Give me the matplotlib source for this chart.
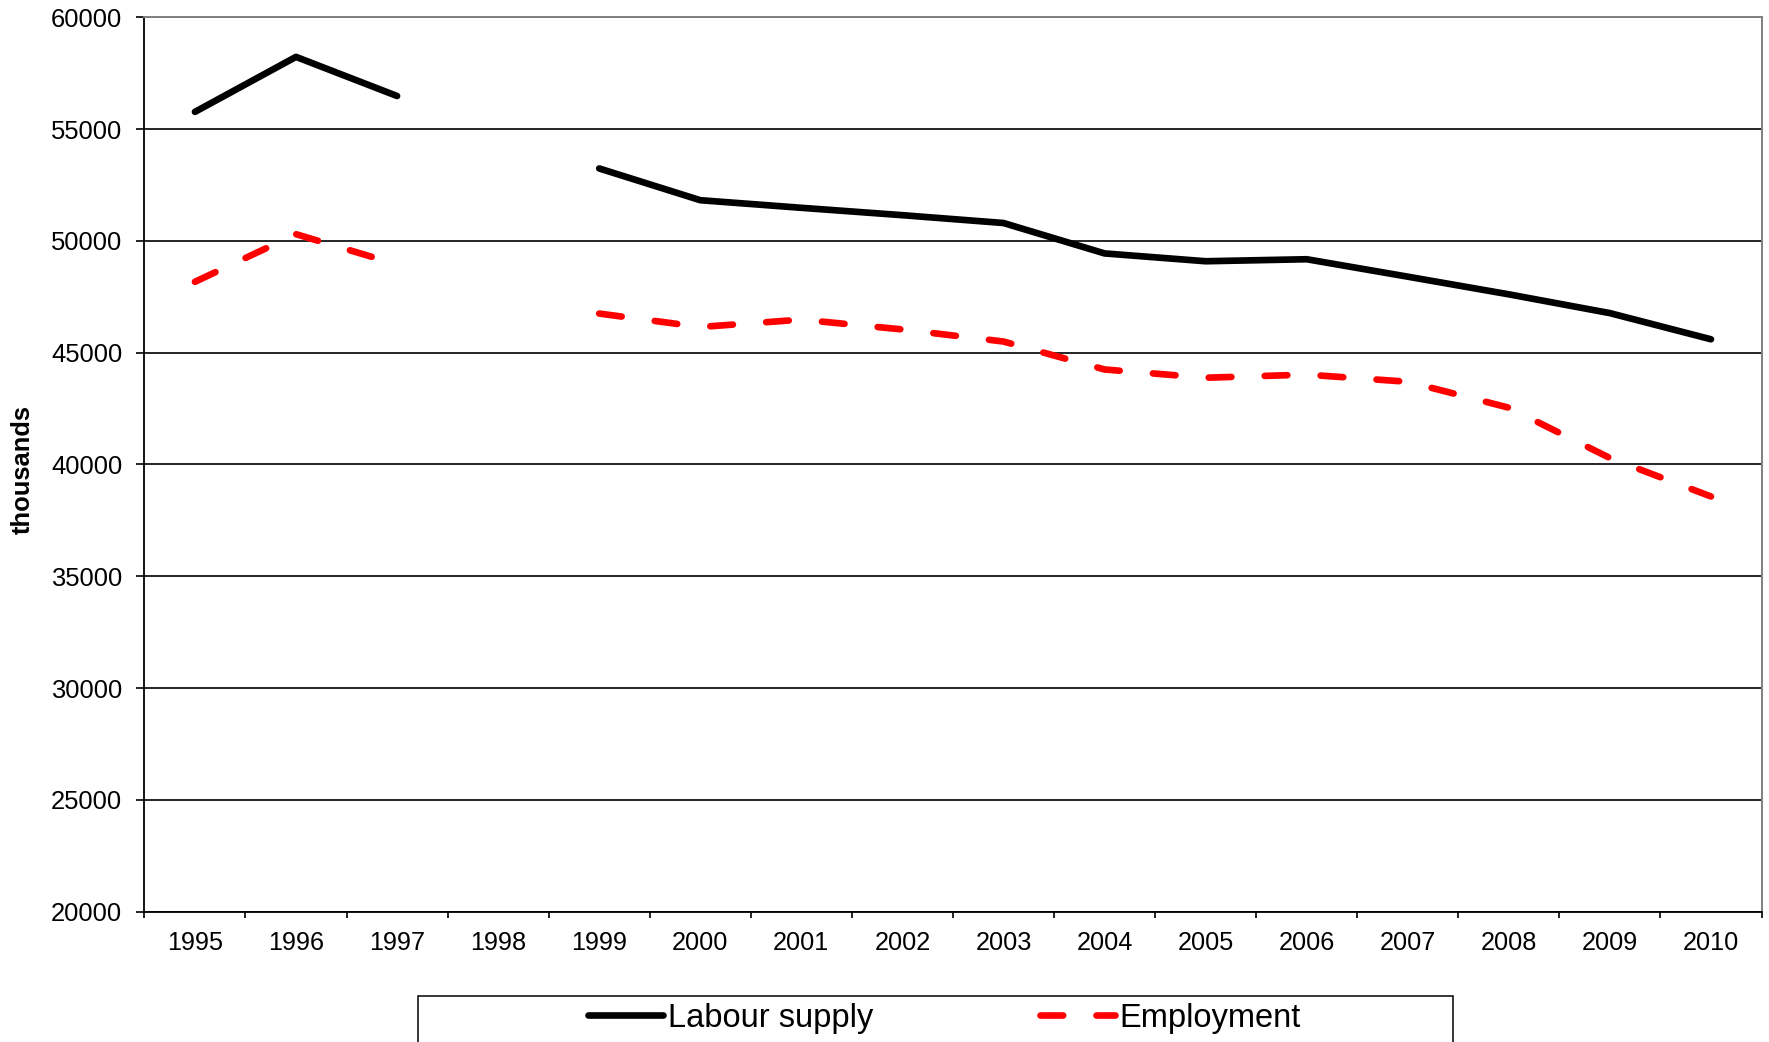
import numpy as np
import matplotlib
matplotlib.use("Agg")
import matplotlib.pyplot as plt
from matplotlib.patches import Rectangle

plt.rcParams['font.family'] = ['Liberation Sans', 'DejaVu Sans']

# Annual series, thousands of persons (no observation for 1998)
years = ['1995', '1996', '1997', '1998', '1999', '2000', '2001', '2002',
         '2003', '2004', '2005', '2006', '2007', '2008', '2009', '2010']
labour_supply = [55770, 58230, 56480, np.nan, 53240, 51820, 51480, 51150,
                 50800, 49440, 49090, 49180, 48400, 47610, 46770, 45600]
employment = [48170, 50300, 48950, np.nan, 46750, 46150, 46480, 46040,
              45500, 44250, 43880, 44020, 43700, 42540, 40290, 38570]
y_ticks = [20000, 25000, 30000, 35000, 40000, 45000, 50000, 55000, 60000]

W, H = 1769, 1042
fig = plt.figure(figsize=(W / 100, H / 100), dpi=100)
ax = fig.add_axes([144.4 / W, 1 - 911.7 / H, (1761.5 - 144.4) / W, (911.7 - 17.3) / H])

x = np.arange(len(years))
lw = 4.8
ax.plot(x, labour_supply, color='black', lw=lw, solid_capstyle='round',
        solid_joinstyle='round', label='Labour supply', zorder=3)
ax.plot(x, employment, color='#ff0000', lw=lw, linestyle=(0, (3.4, 5.0)),
        dash_capstyle='round', dash_joinstyle='round', label='Employment', zorder=3)

ax.set_xlim(-0.5, len(years) - 0.5)
ax.set_ylim(y_ticks[0], y_ticks[-1])

# y axis
ax.set_yticks(y_ticks)
ax.set_yticklabels([str(v) for v in y_ticks])
ax.tick_params(axis='y', which='major', direction='out', length=5.5, width=1.2,
               pad=10.5, labelsize=18.4, colors='black')
ax.yaxis.grid(True, color='black', lw=1.2)
ax.set_axisbelow(True)

# category axis: labels at centres, tick marks between categories
ax.set_xticks(x)
ax.set_xticklabels(years)
ax.set_xticks(np.arange(len(years) + 1) - 0.5, minor=True)
ax.tick_params(axis='x', which='major', length=0, pad=14, labelsize=18.2)
ax.tick_params(axis='x', which='minor', direction='out', length=4.5, width=1.2)

for side in ('left', 'bottom'):
    ax.spines[side].set_color('black')
    ax.spines[side].set_linewidth(1.3)
for side in ('top', 'right'):
    ax.spines[side].set_color('#808080')
    ax.spines[side].set_linewidth(1.4)

fig.text(23 / W, 1 - 469 / H, 'thousands', rotation=90, ha='center', va='center',
         fontsize=18.4, fontweight='bold')

# legend box running off the lower edge of the figure
box_top = 1 - 995.5 / H
fig.add_artist(Rectangle((418 / W, -0.2), (1453 - 418) / W, box_top + 0.2,
                         transform=fig.transFigure, facecolor='white',
                         edgecolor='black', lw=1.1, clip_on=False, zorder=0))
handles, labels = ax.get_legend_handles_labels()
leg = fig.legend(handles, labels, loc='center left',
                 bbox_to_anchor=(588 / W, 1 - 1018 / H), ncol=2, frameon=False,
                 fontsize=23.5, handlelength=2.3, handletextpad=0.15,
                 columnspacing=5.1, borderpad=0, borderaxespad=0)
leg.set_zorder(1)

fig.savefig('out.png', dpi=100, facecolor='white')
